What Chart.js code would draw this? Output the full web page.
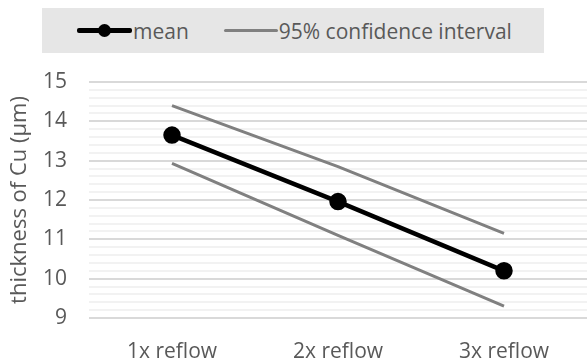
<!DOCTYPE html>
<html>
<head>
<meta charset="utf-8">
<script src="https://cdn.jsdelivr.net/npm/chart.js@4/dist/chart.umd.min.js"></script>
<style>
  html, body { margin: 0; padding: 0; background: #fff; }
  #wrap { position: relative; width: 587px; height: 363px; font-family: "Open Sans", sans-serif; }
  #chart { position: absolute; left: 0; top: 0; }
  #legend {
    position: absolute; left: 42px; top: 8px; width: 502px; height: 45px;
    background: #e6e6e6; display: flex; align-items: center;
    color: #595959; font-size: 21px;
  }
  .item { display: flex; align-items: center; }
  .icon { position: relative; display: inline-block; height: 14px; }
</style>
</head>
<body>
<div id="wrap">
  <canvas id="chart" width="587" height="363"></canvas>
  <div id="legend"></div>
</div>
<script>
const categories = ['1x reflow', '2x reflow', '3x reflow'];
const meanValues = [13.65, 11.96, 10.2];
const upperValues = [14.4, 12.85, 11.15];
const lowerValues = [12.93, 11.1, 9.3];
const yTicks = [9, 10, 11, 12, 13, 14, 15];

const textColor = '#595959';
const ciColor = '#808080';

const isMajor = v => Math.abs(v - Math.round(v)) < 1e-6;

const ctx = document.getElementById('chart').getContext('2d');
const chart = new Chart(ctx, {
    type: 'line',
    data: {
        labels: categories,
        datasets: [
            {
                label: 'mean',
                data: meanValues,
                borderColor: '#000',
                backgroundColor: '#000',
                borderWidth: 4.5,
                pointRadius: 6.5,
                pointHoverRadius: 6.5,
                order: 0
            },
            {
                label: '95% confidence interval',
                data: upperValues,
                borderColor: ciColor,
                borderWidth: 3,
                pointRadius: 0,
                order: 1
            },
            {
                label: '95% confidence interval',
                data: lowerValues,
                borderColor: ciColor,
                borderWidth: 3,
                pointRadius: 0,
                order: 1
            }
        ]
    },
    options: {
        responsive: false,
        animation: false,
        layout: { autoPadding: false, padding: { top: 82, right: -3, left: 0, bottom: 0 } },
        plugins: {
            legend: { display: false },
            tooltip: { enabled: false }
        },
        scales: {
            x: {
                offset: true,
                grid: { display: false },
                border: { display: false },
                ticks: {
                    color: textColor,
                    font: { family: 'Open Sans', size: 21 },
                    padding: 13,
                    maxRotation: 0
                },
                afterFit: scale => {
                    scale.height = 45;
                    scale.paddingLeft = 0;
                    scale.paddingRight = 0;
                }
            },
            y: {
                min: yTicks[0],
                max: yTicks[yTicks.length - 1],
                border: { display: false },
                grid: {
                    drawTicks: false,
                    lineWidth: 2,
                    color: c => isMajor(c.tick.value) ? '#d9d9d9' : '#f2f2f2'
                },
                ticks: {
                    stepSize: 0.2,
                    autoSkip: false,
                    padding: 22,
                    color: textColor,
                    font: { family: 'Open Sans', size: 21 },
                    callback: v => isMajor(v) && yTicks.includes(Math.round(v)) ? String(Math.round(v)) : ''
                },
                title: {
                    display: true,
                    text: 'thickness of Cu (µm)',
                    color: textColor,
                    font: { family: 'Open Sans', size: 22 },
                    padding: { top: 7, bottom: 0 }
                },
                afterFit: scale => { scale.width = 89; }
            }
        }
    }
});

// html legend built from the datasets
const legend = document.getElementById('legend');
const shown = chart.data.datasets.slice(0, 2);
shown.forEach((ds, i) => {
    const item = document.createElement('span');
    item.className = 'item';
    item.style.marginLeft = '35px';
    const icon = document.createElement('span');
    icon.className = 'icon';
    icon.style.width = i === 0 ? '55px' : '54px';
    icon.innerHTML = `<span style="position:absolute;left:0;right:0;top:${7 - ds.borderWidth / 2}px;height:${ds.borderWidth}px;background:${ds.borderColor};border-radius:2px"></span>` +
        (ds.pointRadius ? `<span style="position:absolute;left:${27.5 - ds.pointRadius}px;top:${7 - ds.pointRadius}px;width:${ds.pointRadius * 2}px;height:${ds.pointRadius * 2}px;border-radius:50%;background:${ds.borderColor}"></span>` : '');
    const txt = document.createElement('span');
    txt.textContent = ds.label;
    txt.style.marginLeft = '1px';
    item.appendChild(icon);
    item.appendChild(txt);
    legend.appendChild(item);
});
</script>
</body>
</html>
